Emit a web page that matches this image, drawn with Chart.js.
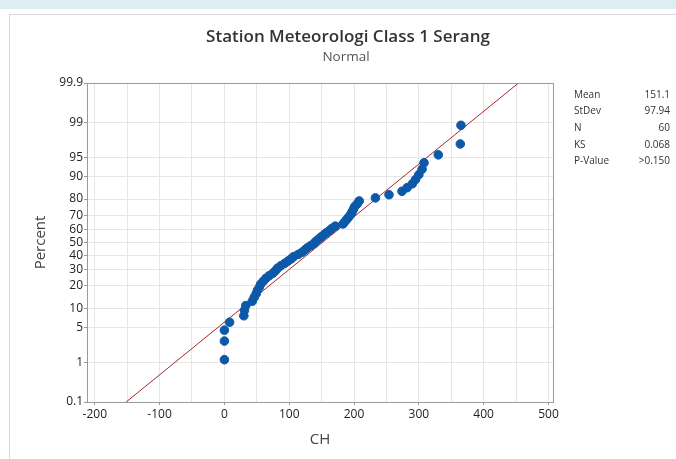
<!DOCTYPE html>
<html>
<head>
<meta charset="utf-8">
<script src="https://cdn.jsdelivr.net/npm/chart.js@4/dist/chart.umd.min.js"></script>
<style>
  body { margin: 0; background: #fff; }
  .strip { position: absolute; left: 0; top: 0; width: 676px; height: 9px; background: #dcedf4; }
  .panel { position: absolute; left: 9px; top: 14px; width: 700px; height: 500px; border: 1px solid #d9d9d9; background: #fff; }
  .wrap { position: absolute; left: 0; top: 0; width: 676px; height: 459px; }
</style>
</head>
<body>
<div class="strip"></div>
<div class="panel"></div>
<div class="wrap"><canvas id="myChart" width="676" height="459"></canvas></div>
<script>
'use strict';

/* DATA */

// CH, sorted
const chValues = [
  0, 0, 0, 8, 30, 31, 33, 43, 46, 49,
  51, 54, 56, 60, 64, 69, 75, 79, 82, 87,
  93, 98, 103, 107, 114, 120, 124, 128, 133, 138,
  141, 145, 149, 153, 157, 162, 166, 171, 183, 186,
  189, 192, 195, 197, 199, 201, 205, 208, 233, 254,
  274, 282, 290, 295, 300, 305, 308, 330, 364, 365
];
// plotted percent for each point
const percentValues = [
  1.16, 2.81, 4.47, 6.13, 7.78, 9.44, 11.09, 12.75, 14.40, 16.06,
  17.72, 19.37, 21.03, 22.68, 24.34, 25.99, 27.65, 29.30, 30.96, 32.62,
  34.27, 35.93, 37.58, 39.24, 40.89, 42.55, 44.21, 45.86, 47.52, 49.17,
  50.83, 52.48, 54.14, 55.79, 57.45, 59.11, 60.76, 62.42, 64.07, 65.73,
  67.38, 69.04, 70.70, 72.35, 74.01, 75.66, 77.32, 78.97, 80.63, 82.28,
  83.94, 85.60, 87.25, 88.91, 90.56, 92.22, 93.87, 95.53, 97.19, 98.84
];
const percentTicks = [0.1, 1, 5, 10, 20, 30, 40, 50, 60, 70, 80, 90, 95, 99, 99.9];
const xTicks = [-200, -150, -100, -50, 0, 50, 100, 150, 200, 250, 300, 350, 400, 450, 500];
const xLabelTicks = [-200, -100, 0, 100, 200, 300, 400, 500];

const statNames = ['Mean', 'StDev', 'N', 'KS', 'P-Value'];
const statValues = ['151.1', '97.94', '60', '0.068', '>0.150'];
const fitMean = 151.1;
const fitStDev = 97.94;

/* PROBABILITY SCALE */

// inverse normal cdf (Acklam)
function probit(p) {
  const a = [-3.969683028665376e+01, 2.209460984245205e+02, -2.759285104469687e+02, 1.383577518672690e+02, -3.066479806614716e+01, 2.506628277459239e+00];
  const b = [-5.447609879822406e+01, 1.615858368580409e+02, -1.556989798598866e+02, 6.680131188771972e+01, -1.328068155288572e+01];
  const c = [-7.784894002430293e-03, -3.223964580411365e-01, -2.400758277161838e+00, -2.549732539343734e+00, 4.374664141464968e+00, 2.938163982698783e+00];
  const d = [7.784695709041462e-03, 3.224671290700398e-01, 2.445134137142996e+00, 3.754408661907416e+00];
  const pl = 0.02425;
  let q, r;
  if (p < pl) {
    q = Math.sqrt(-2 * Math.log(p));
    return (((((c[0]*q+c[1])*q+c[2])*q+c[3])*q+c[4])*q+c[5]) / ((((d[0]*q+d[1])*q+d[2])*q+d[3])*q+1);
  }
  if (p <= 1 - pl) {
    q = p - 0.5; r = q * q;
    return (((((a[0]*r+a[1])*r+a[2])*r+a[3])*r+a[4])*r+a[5])*q / (((((b[0]*r+b[1])*r+b[2])*r+b[3])*r+b[4])*r+1);
  }
  q = Math.sqrt(-2 * Math.log(1 - p));
  return -(((((c[0]*q+c[1])*q+c[2])*q+c[3])*q+c[4])*q+c[5]) / ((((d[0]*q+d[1])*q+d[2])*q+d[3])*q+1);
}

const zMin = probit(percentTicks[0] / 100);
const zMax = probit(percentTicks[percentTicks.length - 1] / 100);

const points = chValues.map(function(v, i) {
  return { x: v, y: probit(percentValues[i] / 100) };
});
// fitted normal line
const fitLine = [
  { x: fitMean + fitStDev * zMin, y: zMin },
  { x: fitMean + fitStDev * zMax, y: zMax }
];

/* PLUGINS */

const frame = {
  id: 'frame',
  afterDatasetsDraw(chart) {
    const a = chart.chartArea, ctx = chart.ctx;
    ctx.save();
    ctx.strokeStyle = '#9a9a9a';
    ctx.lineWidth = 1;
    ctx.strokeRect(Math.round(a.left) + 0.5, Math.round(a.top) + 0.5, Math.round(a.right - a.left), Math.round(a.bottom - a.top));
    ctx.restore();
  }
};

const texts = {
  id: 'texts',
  afterDraw(chart) {
    const ctx = chart.ctx;
    ctx.save();
    ctx.textAlign = 'center';
    ctx.textBaseline = 'middle';
    ctx.fillStyle = '#333';
    ctx.font = '600 17px "Open Sans"';
    ctx.fillText('Station Meteorologi Class 1 Serang', 348, 37);
    ctx.fillStyle = '#555';
    ctx.font = '13.5px "Open Sans"';
    ctx.fillText('Normal', 346, 57);

    ctx.font = '10px "Open Sans"';
    ctx.fillStyle = '#333';
    for (let i = 0; i < statNames.length; i++) {
      const y = 95 + i * 16.6;
      ctx.textAlign = 'left';
      ctx.fillText(statNames[i], 574, y);
      ctx.textAlign = 'right';
      ctx.fillText(statValues[i], 670, y);
    }
    ctx.restore();
  }
};

/* CHART */

const tickFont = { family: 'Open Sans', size: 12 };

const ctx = document.getElementById('myChart').getContext('2d');
const chart = new Chart(ctx, {
  type: 'scatter',
  data: {
    datasets: [{
      label: 'CH',
      data: points,
      backgroundColor: '#0b59a8',
      borderColor: '#0b59a8',
      pointRadius: 4.3,
      order: 0
    },
    {
      label: 'Fit',
      data: fitLine,
      showLine: true,
      borderColor: '#a8262b',
      borderWidth: 1,
      pointRadius: 0,
      order: 1
    }]
  },
  options: {
    responsive: false,
    animation: false,
    layout: { padding: { left: 0, right: 123, top: 83, bottom: 0 } },
    plugins: { legend: { display: false }, tooltip: { enabled: false } },
    scales: {
      x: {
        type: 'linear',
        min: -212,
        max: 507,
        afterBuildTicks(scale) {
          scale.ticks = xTicks.map(function(v) { return { value: v }; });
        },
        afterFit(scale) { scale.height = 57; },
        ticks: {
          font: tickFont,
          color: '#222',
          padding: 2,
          maxRotation: 0,
          autoSkip: false,
          callback: function(v) { return xLabelTicks.includes(v) ? String(v) : ''; }
        },
        grid: {
          color: '#e6e6e6',
          tickLength: 3,
          tickColor: function(c) { return xLabelTicks.includes(c.tick.value) ? '#9a9a9a' : 'rgba(0,0,0,0)'; }
        },
        border: { color: '#9a9a9a' },
        title: {
          display: true,
          text: 'CH',
          color: '#444',
          font: { family: 'Open Sans', size: 15 },
          padding: { bottom: 10 }
        }
      },
      y: {
        type: 'linear',
        min: zMin,
        max: zMax,
        afterBuildTicks(scale) {
          scale.ticks = percentTicks.map(function(p) { return { value: probit(p / 100) }; });
        },
        afterFit(scale) { scale.width = 87; },
        ticks: {
          font: tickFont,
          color: '#222',
          padding: 1,
          autoSkip: false,
          callback: function(v, i) { return String(percentTicks[i]); }
        },
        grid: { color: '#e6e6e6', tickLength: 3, tickColor: '#9a9a9a' },
        border: { color: '#9a9a9a' },
        title: {
          display: true,
          text: 'Percent',
          color: '#444',
          font: { family: 'Open Sans', size: 15 },
          padding: { top: 32 }
        }
      }
    }
  },
  plugins: [frame, texts]
});
</script>
</body>
</html>
